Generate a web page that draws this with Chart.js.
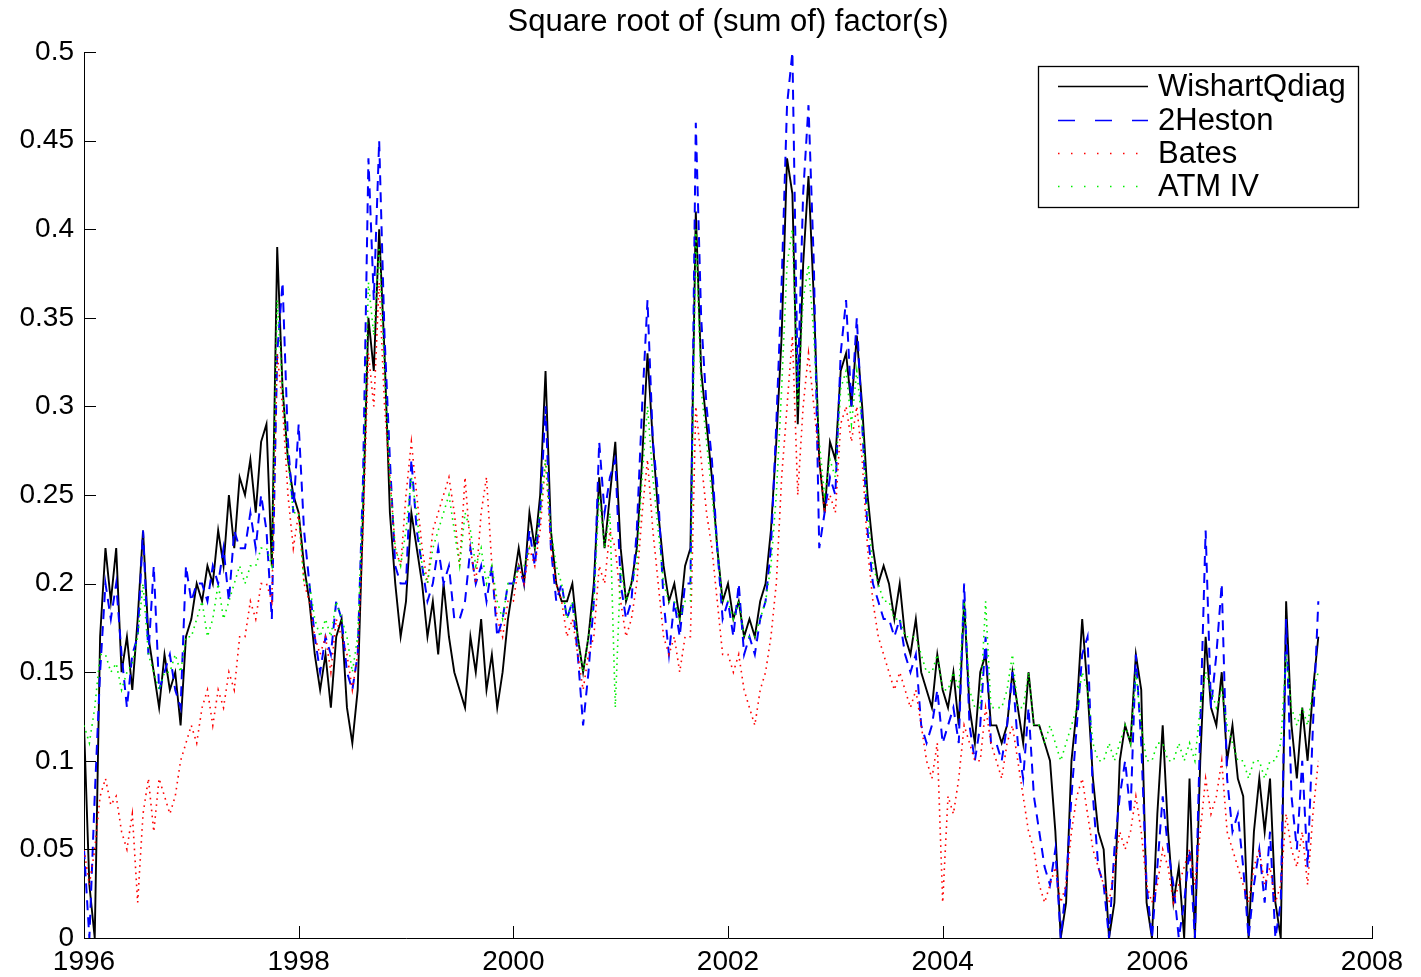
<!DOCTYPE html>
<html>
<head>
<meta charset="utf-8">
<script src="https://cdn.jsdelivr.net/npm/chart.js@4.4.1/dist/chart.umd.min.js"></script>
<style>
  html, body { margin: 0; padding: 0; background: #ffffff; }
  #wrap { width: 1421px; height: 977px; }
</style>
</head>
<body>
<div id="wrap"><canvas id="c" width="1421" height="977"></canvas></div>
<script>
// Sampling grid (years)
const startYear = 1996;
const stepYear = 0.05;

const titleText = 'Square root of (sum of) factor(s)';
const seriesNames = ['WishartQdiag', '2Heston', 'Bates', 'ATM IV'];
const xTickValues = [1996, 1998, 2000, 2002, 2004, 2006, 2008];
const yTickValues = [0, 0.05, 0.1, 0.15, 0.2, 0.25, 0.3, 0.35, 0.4, 0.45, 0.5];

const wishartQdiag = [
  0.12, 0.03, 0.0, 0.17, 0.22, 0.19, 0.22, 0.15, 0.17, 0.14,
  0.18, 0.23, 0.17, 0.15, 0.13, 0.16, 0.14, 0.15, 0.12, 0.17,
  0.18, 0.2, 0.19, 0.21, 0.2, 0.23, 0.21, 0.25, 0.22, 0.26,
  0.25, 0.27, 0.24, 0.28, 0.29, 0.21, 0.39, 0.31, 0.27, 0.25,
  0.24, 0.21, 0.19, 0.16, 0.14, 0.16, 0.13, 0.17, 0.18, 0.13,
  0.11, 0.14, 0.24, 0.35, 0.32, 0.4, 0.33, 0.24, 0.2, 0.17,
  0.19, 0.24, 0.22, 0.2, 0.17, 0.19, 0.16, 0.2, 0.17, 0.15,
  0.14, 0.13, 0.17, 0.15, 0.18, 0.14, 0.16, 0.13, 0.15, 0.18,
  0.2, 0.22, 0.2, 0.24, 0.22, 0.25, 0.32, 0.23, 0.2, 0.19,
  0.19, 0.2, 0.17, 0.15, 0.17, 0.2, 0.26, 0.22, 0.25, 0.28,
  0.22, 0.19, 0.2, 0.22, 0.27, 0.33, 0.28, 0.24, 0.21, 0.19,
  0.2, 0.18, 0.21, 0.22, 0.41, 0.32, 0.29, 0.26, 0.22, 0.19,
  0.2, 0.18, 0.19, 0.17, 0.18, 0.17, 0.19, 0.2, 0.23, 0.28,
  0.34, 0.44, 0.42, 0.29, 0.38, 0.43, 0.36, 0.27, 0.24, 0.28,
  0.27, 0.32, 0.33, 0.3, 0.34, 0.3, 0.25, 0.22, 0.2, 0.21,
  0.2, 0.18, 0.2, 0.17, 0.16, 0.18, 0.15, 0.14, 0.13, 0.16,
  0.14, 0.13, 0.15, 0.12, 0.19, 0.13, 0.11, 0.15, 0.16, 0.12,
  0.12, 0.11, 0.12, 0.15, 0.13, 0.11, 0.15, 0.12, 0.12, 0.11,
  0.1, 0.06, 0.0, 0.02, 0.1, 0.13, 0.18, 0.14, 0.09, 0.06,
  0.05, 0.0, 0.02, 0.1, 0.12, 0.11, 0.16, 0.14, 0.02, 0.0,
  0.07, 0.12, 0.06, 0.02, 0.04, 0.0, 0.09, 0.0, 0.1, 0.17,
  0.13, 0.12, 0.15, 0.1, 0.12, 0.09, 0.08, 0.0, 0.06, 0.09,
  0.06, 0.09, 0.02, 0.0, 0.19, 0.12, 0.09, 0.13, 0.1, 0.14, 0.17
];

const heston2 = [
  0.05, 0.0, 0.08, 0.15, 0.2, 0.18, 0.2, 0.16, 0.13, 0.16,
  0.17, 0.23, 0.16, 0.21, 0.14, 0.15, 0.16, 0.14, 0.13, 0.21,
  0.19, 0.2, 0.2, 0.19, 0.21, 0.2, 0.22, 0.19, 0.23, 0.22,
  0.22, 0.24, 0.22, 0.25, 0.23, 0.18, 0.33, 0.37, 0.28, 0.24,
  0.29, 0.23, 0.2, 0.17, 0.15, 0.17, 0.16, 0.19, 0.18, 0.15,
  0.14, 0.16, 0.26, 0.44, 0.36, 0.45, 0.34, 0.27, 0.21, 0.2,
  0.2, 0.27, 0.23, 0.21, 0.19, 0.2, 0.22, 0.2, 0.21, 0.18,
  0.18, 0.19, 0.22, 0.2, 0.21, 0.19, 0.21, 0.17, 0.18, 0.2,
  0.2, 0.21, 0.2, 0.23, 0.21, 0.24, 0.3, 0.22, 0.19, 0.2,
  0.18, 0.19, 0.16, 0.12, 0.15, 0.19, 0.28, 0.24, 0.26, 0.27,
  0.2, 0.18, 0.19, 0.23, 0.3, 0.36, 0.28, 0.25, 0.19, 0.16,
  0.19, 0.17, 0.2, 0.2, 0.46, 0.35, 0.3, 0.27, 0.22, 0.18,
  0.19, 0.17, 0.2, 0.16, 0.17, 0.16, 0.18, 0.19, 0.22, 0.29,
  0.37, 0.47, 0.5, 0.31, 0.42, 0.47, 0.38, 0.22, 0.24, 0.26,
  0.25, 0.33, 0.36, 0.3, 0.35, 0.29, 0.23, 0.2, 0.19, 0.18,
  0.18, 0.17, 0.18, 0.16, 0.15, 0.16, 0.12, 0.11, 0.12, 0.14,
  0.11, 0.12, 0.13, 0.11, 0.2, 0.12, 0.1, 0.12, 0.17, 0.11,
  0.11, 0.1, 0.12, 0.15, 0.11, 0.09, 0.13, 0.08, 0.06, 0.04,
  0.03, 0.05, 0.0, 0.03, 0.08, 0.12, 0.16, 0.17, 0.08, 0.04,
  0.03, 0.0, 0.05, 0.08, 0.1, 0.07, 0.16, 0.11, 0.03, 0.0,
  0.04, 0.08, 0.05, 0.03, 0.0, 0.02, 0.05, 0.0, 0.12, 0.23,
  0.13, 0.16, 0.2, 0.09, 0.06, 0.07, 0.04, 0.0, 0.03, 0.05,
  0.02, 0.06, 0.0, 0.02, 0.18, 0.08, 0.05, 0.1, 0.04, 0.12, 0.19
];

const bates = [
  0.05, 0.03, 0.05, 0.08, 0.09, 0.075, 0.08, 0.06, 0.05, 0.07,
  0.02, 0.07, 0.09, 0.06, 0.09, 0.08, 0.07, 0.08, 0.1, 0.11,
  0.12, 0.11, 0.13, 0.14, 0.12, 0.14, 0.13, 0.15, 0.14, 0.17,
  0.17, 0.19, 0.18, 0.2, 0.2, 0.19, 0.33, 0.3, 0.25, 0.22,
  0.24, 0.2, 0.19, 0.17, 0.16, 0.17, 0.15, 0.18, 0.17, 0.16,
  0.14, 0.16, 0.23, 0.33, 0.3, 0.37, 0.3, 0.26, 0.22, 0.21,
  0.25, 0.28, 0.25, 0.22, 0.2, 0.23, 0.24, 0.25, 0.26, 0.24,
  0.21, 0.26, 0.22, 0.2, 0.24, 0.26, 0.21, 0.18, 0.17, 0.19,
  0.19, 0.21, 0.2, 0.22, 0.21, 0.23, 0.27, 0.22, 0.2, 0.19,
  0.17, 0.18, 0.16, 0.14, 0.16, 0.17, 0.21, 0.2, 0.23, 0.22,
  0.19, 0.17, 0.18, 0.2, 0.24, 0.27, 0.23, 0.2, 0.17, 0.16,
  0.17, 0.15, 0.17, 0.17, 0.3, 0.27, 0.24, 0.22, 0.19, 0.16,
  0.16, 0.15, 0.16, 0.14, 0.13, 0.12, 0.14, 0.15, 0.17, 0.2,
  0.26, 0.3, 0.34, 0.25, 0.3, 0.33, 0.3, 0.27, 0.24, 0.25,
  0.24, 0.29, 0.3, 0.28, 0.3, 0.27, 0.22, 0.19, 0.17, 0.16,
  0.15, 0.14, 0.15, 0.14, 0.13, 0.14, 0.12, 0.1, 0.09, 0.11,
  0.02, 0.08, 0.07, 0.09, 0.12, 0.11, 0.1, 0.1, 0.13, 0.11,
  0.1, 0.09, 0.11, 0.12, 0.1, 0.08, 0.06, 0.05, 0.03, 0.02,
  0.03, 0.04, 0.02, 0.03, 0.06, 0.08, 0.09, 0.07, 0.05, 0.04,
  0.03, 0.02, 0.04, 0.06, 0.05, 0.06, 0.08, 0.06, 0.03, 0.02,
  0.03, 0.05, 0.04, 0.02, 0.03, 0.04, 0.05, 0.03, 0.06, 0.09,
  0.07, 0.08, 0.1, 0.06, 0.05, 0.04, 0.03, 0.02, 0.04, 0.05,
  0.03, 0.04, 0.02, 0.03, 0.07, 0.05, 0.04, 0.06, 0.03, 0.07, 0.1
];

const atmIV = [
  0.12, 0.11, 0.13, 0.16, 0.16, 0.15, 0.155, 0.14, 0.15, 0.155,
  0.17, 0.2, 0.16, 0.15, 0.14, 0.15, 0.15, 0.16, 0.15, 0.17,
  0.17, 0.18, 0.19, 0.17, 0.18, 0.2, 0.18, 0.19, 0.2, 0.21,
  0.2, 0.21, 0.21, 0.22, 0.22, 0.21, 0.36, 0.31, 0.27, 0.24,
  0.24, 0.2, 0.2, 0.18, 0.17, 0.18, 0.17, 0.19, 0.18, 0.17,
  0.15, 0.17, 0.25, 0.37, 0.34, 0.39, 0.32, 0.26, 0.22, 0.21,
  0.23, 0.26, 0.24, 0.21, 0.2, 0.22, 0.23, 0.24, 0.25, 0.23,
  0.21, 0.24, 0.23, 0.21, 0.22, 0.2, 0.21, 0.19, 0.18, 0.2,
  0.2, 0.21, 0.21, 0.22, 0.22, 0.24, 0.27, 0.23, 0.21, 0.2,
  0.18, 0.19, 0.17, 0.15, 0.17, 0.19, 0.25, 0.22, 0.24, 0.13,
  0.21, 0.19, 0.2, 0.21, 0.26, 0.3, 0.26, 0.23, 0.2, 0.19,
  0.19, 0.18, 0.19, 0.19, 0.4, 0.31, 0.28, 0.25, 0.22, 0.19,
  0.19, 0.18, 0.19, 0.17, 0.17, 0.17, 0.18, 0.19, 0.21, 0.25,
  0.31, 0.38, 0.4, 0.3, 0.36, 0.38, 0.34, 0.28, 0.25, 0.27,
  0.26, 0.31, 0.32, 0.29, 0.32, 0.29, 0.24, 0.21, 0.2, 0.19,
  0.19, 0.18, 0.18, 0.17, 0.17, 0.17, 0.16, 0.15, 0.15, 0.16,
  0.14, 0.14, 0.15, 0.14, 0.19, 0.14, 0.13, 0.13, 0.19, 0.13,
  0.13, 0.13, 0.14, 0.16, 0.13, 0.13, 0.15, 0.12, 0.12, 0.11,
  0.12, 0.11, 0.1, 0.11, 0.12, 0.13, 0.15, 0.14, 0.11, 0.1,
  0.1, 0.11, 0.1, 0.11, 0.12, 0.11, 0.15, 0.12, 0.1, 0.1,
  0.11, 0.11, 0.1, 0.1, 0.11, 0.1, 0.11, 0.1, 0.13, 0.15,
  0.14, 0.13, 0.14, 0.12, 0.11, 0.1, 0.1, 0.09, 0.1, 0.1,
  0.09, 0.1, 0.1, 0.11, 0.16, 0.13, 0.12, 0.13, 0.12, 0.14, 0.15
];

const FONT = "'Liberation Sans', Arial, Helvetica, sans-serif";

function toPoints(values) {
  return values.map((v, i) => ({ x: startYear + i * stepYear, y: v }));
}

function fmtY(v) {
  return String(parseFloat(Number(v).toFixed(2)));
}

const inwardTicks = {
  id: 'inwardTicks',
  afterDatasetsDraw(chart) {
    const ctx = chart.ctx;
    const a = chart.chartArea;
    const xs = chart.scales.x, ys = chart.scales.y;
    ctx.save();
    ctx.strokeStyle = '#000';
    ctx.lineWidth = 1;
    ctx.beginPath();
    yTickValues.forEach(v => {
      const y = Math.round(ys.getPixelForValue(v)) + 0.5;
      ctx.moveTo(a.left, y);
      ctx.lineTo(a.left + 12, y);
    });
    xTickValues.forEach(v => {
      const x = Math.round(xs.getPixelForValue(v)) + 0.5;
      ctx.moveTo(x, a.bottom);
      ctx.lineTo(x, a.bottom - 12);
    });
    ctx.stroke();
    ctx.restore();
  }
};

const plotTitle = {
  id: 'plotTitle',
  afterDraw(chart) {
    const ctx = chart.ctx;
    const a = chart.chartArea;
    ctx.save();
    ctx.fillStyle = '#000';
    ctx.font = '31px ' + FONT;
    ctx.textAlign = 'center';
    ctx.textBaseline = 'middle';
    ctx.fillText(titleText, (a.left + a.right) / 2, 22);
    ctx.restore();
  }
};

const boxLegend = {
  id: 'boxLegend',
  afterDraw(chart) {
    const ctx = chart.ctx;
    const bx = 1038.5, by = 66.5, bw = 320, bh = 141;
    ctx.save();
    ctx.fillStyle = '#fff';
    ctx.fillRect(bx, by, bw, bh);
    ctx.strokeStyle = '#000';
    ctx.lineWidth = 1.3;
    ctx.setLineDash([]);
    ctx.strokeRect(bx, by, bw, bh);
    const rows = [86, 120, 153, 186];
    chart.data.datasets.forEach((ds, k) => {
      const y = rows[k] + 0.5;
      ctx.save();
      ctx.strokeStyle = ds.borderColor;
      ctx.lineWidth = Math.min(ds.borderWidth, 1.5);
      ctx.setLineDash(ds.legendDash || []);
      ctx.beginPath();
      ctx.moveTo(1058, y);
      ctx.lineTo(1148, y);
      ctx.stroke();
      ctx.restore();
      ctx.fillStyle = '#000';
      ctx.font = '31px ' + FONT;
      ctx.textBaseline = 'middle';
      ctx.textAlign = 'left';
      ctx.fillText(ds.label, 1158, rows[k] + 1);
    });
    ctx.restore();
  }
};

new Chart(document.getElementById('c'), {
  type: 'line',
  data: {
    datasets: [
      { label: seriesNames[0], data: toPoints(wishartQdiag), borderColor: '#000000', borderWidth: 1.9, borderDash: [], legendDash: [], order: 4 },
      { label: seriesNames[1], data: toPoints(heston2), borderColor: '#0000ff', borderWidth: 2, borderDash: [10, 7], legendDash: [17, 20], order: 3 },
      { label: seriesNames[2], data: toPoints(bates), borderColor: '#ff0000', borderWidth: 1.6, borderDash: [1.6, 4.4], legendDash: [1.5, 11.5], order: 2 },
      { label: seriesNames[3], data: toPoints(atmIV), borderColor: '#00ee00', borderWidth: 1.6, borderDash: [1.6, 4.4], legendDash: [1.5, 11.5], order: 1 }
    ]
  },
  options: {
    responsive: false,
    animation: false,
    devicePixelRatio: 1,
    layout: { padding: { left: 0, right: 49, top: 52, bottom: 0 } },
    elements: { point: { radius: 0, hoverRadius: 0 }, line: { tension: 0, fill: false } },
    plugins: {
      legend: { display: false },
      tooltip: { enabled: false },
      title: { display: false }
    },
    scales: {
      x: {
        type: 'linear',
        min: 1996,
        max: 2008,
        afterBuildTicks(scale) { scale.ticks = xTickValues.map(v => ({ value: v })); },
        ticks: {
          callback: v => String(v),
          color: '#000',
          font: { family: FONT, size: 28 },
          padding: 7,
          maxRotation: 0,
          autoSkip: false
        },
        grid: { display: false, drawTicks: false },
        border: { display: true, color: '#000', width: 1 },
        afterFit(scale) { scale.height = 39; }
      },
      y: {
        type: 'linear',
        min: 0,
        max: 0.5,
        afterBuildTicks(scale) { scale.ticks = yTickValues.map(v => ({ value: v })); },
        ticks: {
          callback: v => fmtY(v),
          color: '#000',
          font: { family: FONT, size: 28 },
          padding: 10,
          autoSkip: false
        },
        grid: { display: false, drawTicks: false },
        border: { display: true, color: '#000', width: 1 },
        afterFit(scale) { scale.width = 84; }
      }
    }
  },
  plugins: [inwardTicks, plotTitle, boxLegend]
});
</script>
</body>
</html>
